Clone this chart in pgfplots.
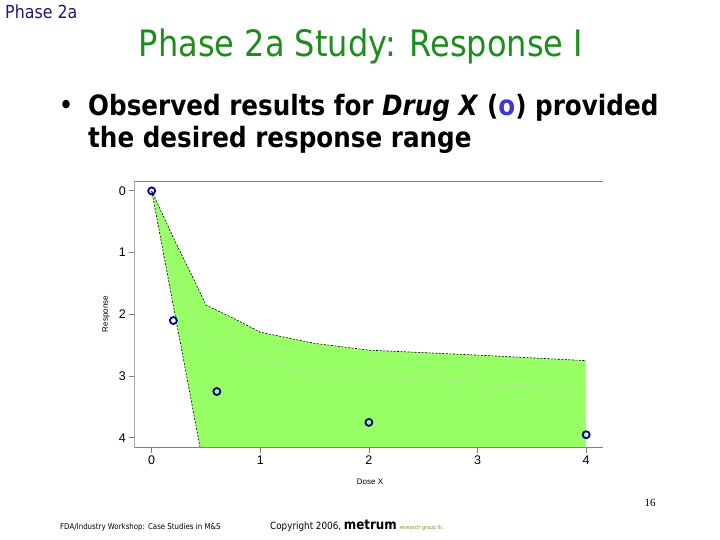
\documentclass[border=0pt]{standalone}
\usepackage{pgfplots}
\pgfplotsset{compat=1.18}
\usepackage{fontspec}
\setmainfont{DejaVu Sans}[FakeStretch=0.88]
\newfontfamily\arial{Liberation Sans}
\newfontfamily\serif{Liberation Serif}
\definecolor{navy}{HTML}{1C1C6C}
\definecolor{titlegreen}{HTML}{1E8C1E}
\definecolor{dotblue}{HTML}{3A3ACC}
\definecolor{ptblue}{HTML}{00008C}
\definecolor{bandgreen}{HTML}{99FF66}
\definecolor{midline}{HTML}{ADEE8C}
\definecolor{olive}{HTML}{8A8A3A}
\begin{document}
\begin{tikzpicture}[x=1pt,y=1pt]
\useasboundingbox[fill=white] (0,0) rectangle (720,540);
\node[anchor=base west, inner sep=0, text=navy, font=\fontsize{18}{18}\selectfont] at (5,521) {Phase 2a};
\node[anchor=base, inner sep=0, text=titlegreen, font=\fontsize{36.4}{36.4}\selectfont] at (361,483) {Phase 2a Study: Response I};
\node[anchor=center, inner sep=0, font=\bfseries\fontsize{24}{24}\selectfont] at (66,433) {\textbullet};
\node[anchor=base west, inner sep=0, font=\bfseries\fontsize{28}{28}\selectfont] at (88,424) {Observed results for \textit{Drug X} (\textcolor{dotblue}{o}) provided};
\node[anchor=base west, inner sep=0, font=\bfseries\fontsize{28}{28}\selectfont] at (88,392) {the desired response range};
\node[anchor=base, inner sep=0, font=\serif\fontsize{11}{11}\selectfont] at (650,33) {16};
\node[anchor=base west, inner sep=0, font=\fontsize{8}{8}\selectfont] at (60,10) {FDA/Industry Workshop: Case Studies in M\&S};
\node[anchor=base west, inner sep=0, font=\fontsize{10}{10}\selectfont] at (270,10) {Copyright 2006, \textbf{\fontsize{13.5}{13.5}\selectfont metrum} \textcolor{olive}{\fontsize{5.5}{5.5}\selectfont research group llc}};
\begin{axis}[at={(134.3pt,92.3pt)}, anchor=south west, scale only axis,
  width=468.7pt, height=266.7pt,
  xmin=-0.16, xmax=4.155, ymin=-4.16, ymax=0.16,
  axis line style={draw=none},
  xtick={0,1,2,3,4}, ytick={-4,-3,-2,-1,0}, yticklabels={4,3,2,1,0},
  tick align=outside, xtick pos=bottom, ytick pos=left,
  major tick length=5pt,
  tick style={draw=gray, line width=0.8pt},
  ticklabel style={font=\arial\fontsize{12.5}{12.5}\selectfont},
  /pgf/number format/assume math mode=true,
  xlabel={Dose X}, ylabel={Response},
  xlabel style={font=\arial\fontsize{8}{8}\selectfont, at={(axis description cs:0.503,-0.128)}, anchor=center},
  ylabel style={font=\arial\fontsize{8}{8}\selectfont, at={(axis description cs:-0.0604,0.501)}, anchor=center},
]
\addplot[fill=bandgreen, draw=none] coordinates {
 (0,0) (0.1,-0.38) (0.2,-0.76) (0.3,-1.12) (0.4,-1.48) (0.5,-1.85) (0.75,-2.06) (1,-2.29) (1.5,-2.47) (2,-2.58) (3,-2.66) (4,-2.75)
 (4,-5) (0.536,-5) (0,0)} -- cycle;
\addplot[midline, line width=0.9pt] coordinates {
 (0,0) (0.1,-0.65) (0.2,-1.25) (0.3,-1.7) (0.4,-2.05) (0.5,-2.35) (1,-2.77) (1.5,-2.95) (2,-3.04) (3,-3.12) (3.9,-3.16)};
\addplot[black, dash pattern=on 2pt off 1.5pt, line width=0.6pt] coordinates {
 (0,0) (0.1,-0.38) (0.2,-0.76) (0.3,-1.12) (0.4,-1.48) (0.5,-1.85) (0.75,-2.06) (1,-2.29) (1.5,-2.47) (2,-2.58) (3,-2.66) (4,-2.75)};
\addplot[black, dash pattern=on 2pt off 1.5pt, line width=0.6pt] coordinates {
 (0,0) (0.536,-5)};
\addplot[only marks, mark=o, mark size=3.5pt, mark options={draw=ptblue, line width=1.8pt}, clip=false] coordinates {
 (0,0) (0.2,-2.10) (0.6,-3.25) (2,-3.75) (4,-3.95)};
\draw[gray, line width=0.8pt] (rel axis cs:1,0) -- (rel axis cs:0,0) -- (rel axis cs:0,1) -- (rel axis cs:1,1);
\end{axis}
\end{tikzpicture}
\end{document}
